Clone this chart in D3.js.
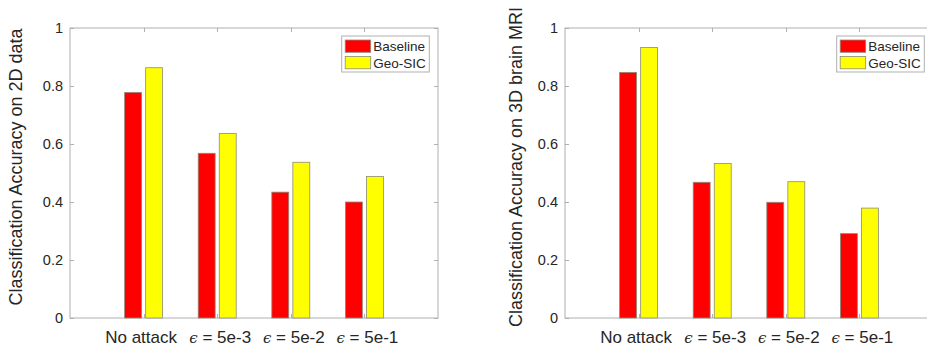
<!DOCTYPE html>
<html><head><meta charset="utf-8">
<script src="https://cdn.jsdelivr.net/npm/d3@7"></script>
<style>body{margin:0;background:#fff}svg{display:block}</style>
</head><body>
<svg id="c" width="927" height="351"></svg>
<script>
const categories = ["No attack", "5e-3", "5e-2", "5e-1"];
const seriesNames = ["Baseline", "Geo-SIC"];
const seriesColors = ["#ff0000", "#ffff00"];
const baseline2D = [0.778, 0.568, 0.434, 0.400];
const geosic2D = [0.863, 0.636, 0.537, 0.488];
const baseline3D = [0.847, 0.468, 0.399, 0.291];
const geosic3D = [0.933, 0.533, 0.470, 0.379];
const yTicks = [0, 0.2, 0.4, 0.6, 0.8, 1];
const yTitles = ["Classification Accuracy on 2D data", "Classification Accuracy on 3D brain MRI"];

const svg = d3.select("#c");
const axisColor = "#b0b0b0";
const textColor = "#262626";

function panel(left, values, title, titleX) {
  const x = d3.scaleLinear().domain([0, 5]).range([left, left + 368]);
  const y = d3.scaleLinear().domain([0, 1]).range([318, 28]);
  const g = svg.append("g");
  const bw = 0.23, off = 0.143;
  // box
  g.append("rect").attr("x", x(0)).attr("y", y(1)).attr("width", x(5) - x(0)).attr("height", y(0) - y(1))
    .attr("fill", "none").attr("stroke", axisColor).attr("stroke-width", 1);
  // ticks
  categories.forEach((c, i) => {
    const cx = Math.round(x(i + 1)) + 0.5;
    g.append("line").attr("x1", cx).attr("x2", cx).attr("y1", y(1)).attr("y2", y(1) + 4).attr("stroke", axisColor);
    g.append("line").attr("x1", cx).attr("x2", cx).attr("y1", y(0)).attr("y2", y(0) - 4).attr("stroke", axisColor);
  });
  yTicks.forEach(t => {
    const ty = Math.round(y(t)) + 0.5;
    g.append("line").attr("x1", x(0)).attr("x2", x(0) + 4).attr("y1", ty).attr("y2", ty).attr("stroke", axisColor);
    g.append("line").attr("x1", x(5)).attr("x2", x(5) - 4).attr("y1", ty).attr("y2", ty).attr("stroke", axisColor);
    g.append("text").attr("x", x(0) - 7).attr("y", y(t)).attr("dy", "0.36em").attr("text-anchor", "end")
      .attr("font-family", "Liberation Sans, Arial, sans-serif").attr("font-size", 14.5).attr("fill", textColor)
      .text(d3.format("~g")(t));
  });
  // bars
  values.forEach((vals, s) => {
    vals.forEach((v, i) => {
      const cx = i + 1 + (s === 0 ? -off : off);
      g.append("rect").attr("x", x(cx - bw / 2)).attr("y", y(v)).attr("width", x(bw) - x(0)).attr("height", y(0) - y(v))
        .attr("fill", seriesColors[s]).attr("stroke", "#8c8c7a").attr("stroke-width", 0.8);
    });
  });
  // x labels
  categories.forEach((c, i) => {
    const t = g.append("text").attr("x", x(i + 1)).attr("y", 343).attr("text-anchor", "middle")
      .attr("font-family", "Liberation Sans, Arial, sans-serif").attr("font-size", 17).attr("fill", textColor);
    if (i === 0) { t.attr("dx", -2.5).text(c); }
    else {
      t.attr("dx", 3);
      t.append("tspan").attr("font-family", "DejaVu Serif, Liberation Serif, serif").attr("font-style", "italic").attr("font-size", 15).text("\u03F5");
      t.append("tspan").text(" = " + c);
    }
  });
  // y title
  g.append("text").attr("transform", `translate(${titleX},167) rotate(-90)`).attr("text-anchor", "middle")
    .attr("dy", "0.35em").attr("font-family", "Liberation Sans, Arial, sans-serif").attr("font-size", 18)
    .attr("fill", textColor).text(title);
  // legend
  const lx = left + 271.7, ly = 36;
  g.append("rect").attr("x", lx).attr("y", ly).attr("width", 87.6).attr("height", 36)
    .attr("fill", "#fff").attr("stroke", axisColor);
  seriesNames.forEach((n, s) => {
    g.append("rect").attr("x", lx + 3.5).attr("y", ly + 4 + s * 16.5).attr("width", 25.5).attr("height", 12.3)
      .attr("fill", seriesColors[s]).attr("stroke", "#8c8c7a").attr("stroke-width", 0.8);
    g.append("text").attr("x", lx + 31.5).attr("y", ly + 10.2 + s * 16.5).attr("dy", "0.36em")
      .attr("font-family", "Liberation Sans, Arial, sans-serif").attr("font-size", 13.5).attr("fill", textColor).text(n);
  });
}

panel(70, [baseline2D, geosic2D], yTitles[0], 16);
panel(565, [baseline3D, geosic3D], yTitles[1], 515.5);
</script>
</body></html>
